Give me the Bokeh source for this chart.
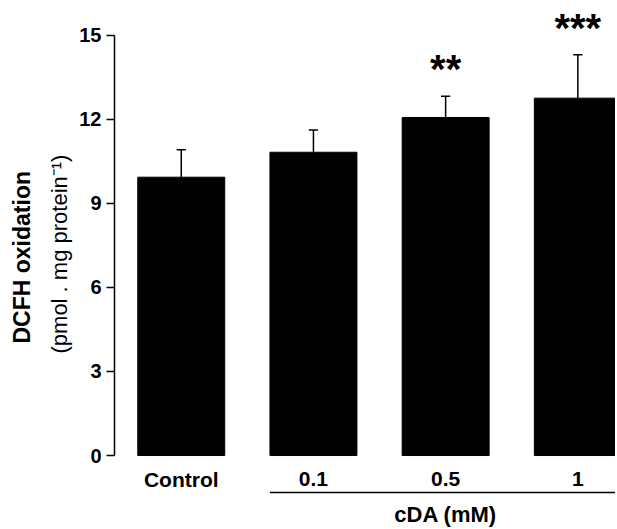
from bokeh.plotting import figure
from bokeh.models import Range1d, FixedTicker, Title
from bokeh.core.properties import value
from bokeh.embed import file_html
from bokeh.resources import INLINE

# ---- data ----
categories = ["Control", "0.1", "0.5", "1"]
means = [9.93, 10.82, 12.06, 12.75]
sem = [0.98, 0.79, 0.76, 1.55]
stars = ["", "", "**", "***"]
y_ticks = [0, 3, 6, 9, 12, 15]
group_label = "cDA (mM)"
y_title = "DCFH oxidation"
y_subtitle = "(pmol . mg protein\u207b\u00b9)"

FONT = "Liberation Sans"
xs = list(range(len(categories)))
bar_w = 0.658
cap = 0.035

p = figure(width=615, height=527, output_backend="svg", toolbar_location=None,
           x_range=Range1d(-0.505, 3.285), y_range=Range1d(-2.568, 16.234),
           x_axis_location=None, min_border_left=114, min_border_right=0,
           min_border_top=0, min_border_bottom=0)
p.outline_line_color = None
p.xgrid.visible = False
p.ygrid.visible = False
p.background_fill_color = "white"
p.border_fill_color = "white"

ax = p.yaxis[0]
ax.bounds = (0, 15)
ax.ticker = FixedTicker(ticks=y_ticks)
ax.minor_tick_line_color = None
ax.major_tick_in = 0
ax.major_tick_out = 8
ax.major_tick_line_width = 1.5
ax.axis_line_width = 1.5
ax.axis_line_color = "black"
ax.major_tick_line_color = "black"
ax.major_label_text_font = FONT
ax.major_label_text_font_style = "bold"
ax.major_label_text_font_size = "20px"
ax.major_label_text_color = "black"
ax.major_label_standoff = 5

# y titles (stacked outward from the axis)
p.add_layout(Title(text=y_subtitle, align="left", offset=174, standoff=6,
                   vertical_align="top", text_font=FONT, text_font_style="normal",
                   text_font_size="22px", text_color="black"), "left")
p.add_layout(Title(text=y_title, align="left", offset=184, standoff=14,
                   vertical_align="top", text_font=FONT, text_font_style="bold",
                   text_font_size="23px", text_color="black"), "left")

# bars
p.vbar(x=xs, top=means, width=bar_w, bottom=0, fill_color="black", line_color="black")

# error bars (upper only)
tops = [m + s for m, s in zip(means, sem)]
p.segment(x0=xs, y0=means, x1=xs, y1=tops, line_color="black", line_width=1.5)
p.segment(x0=[x - cap for x in xs], y0=tops, x1=[x + cap for x in xs], y1=tops,
          line_color="black", line_width=1.5)

# significance stars
p.text(x=xs, y=[t + 0.97 for t in tops], text=stars, text_font=value(FONT),
       text_font_style="bold", text_font_size="40px", text_align="center",
       text_baseline="middle", text_color="black")

# category labels
p.text(x=xs, y=[-0.84] * len(xs), text=categories, text_font=value(FONT),
       text_font_style="bold", text_font_size="21px", text_align="center",
       text_baseline="middle", text_color="black")

# group bracket line and label
p.segment(x0=[1 - bar_w / 2], y0=[-1.32], x1=[3.6], y1=[-1.32], line_color="black", line_width=1.5)
p.text(x=[2], y=[-2.1], text=[group_label], text_font=value(FONT),
       text_font_style="bold", text_font_size="22px", text_align="center",
       text_baseline="middle", text_color="black")

open("out.html", "w").write(file_html(p, INLINE))
